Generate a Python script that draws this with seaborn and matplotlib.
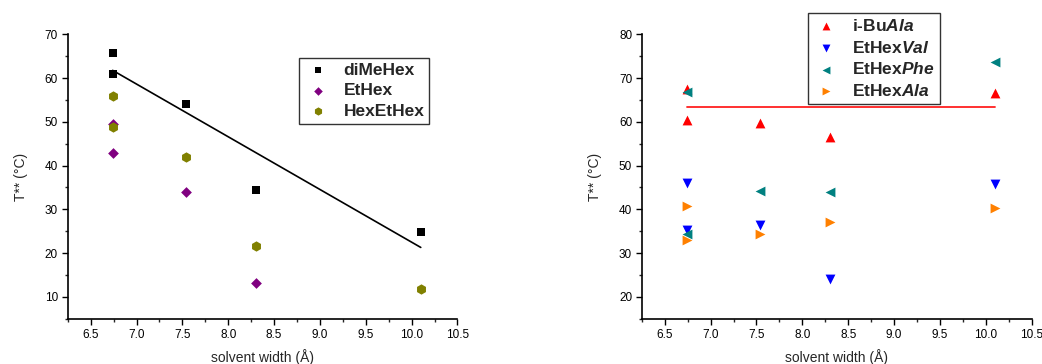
"""
Transition temperature vs solvent width, two panels
"""

import numpy as np
import pandas as pd
import matplotlib
matplotlib.use("Agg")
import matplotlib.pyplot as plt
from matplotlib.ticker import MultipleLocator
import seaborn as sns

# Left panel data
dimehex_x = [6.74, 6.74, 7.54, 8.30, 10.10]
dimehex_y = [65.6, 61.0, 54.0, 34.5, 24.8]
ethex_x = [6.74, 6.74, 7.54, 8.30]
ethex_y = [49.4, 42.9, 34.0, 13.3]
hexethex_x = [6.74, 6.74, 7.54, 8.30, 10.10]
hexethex_y = [55.8, 48.9, 41.9, 21.7, 11.8]

# Right panel data
width_x = [6.74, 6.74, 7.54, 8.30, 10.10]
ibuala_y = [67.4, 60.4, 59.8, 56.5, 66.5]
ethexval_y = [46.0, 35.3, 36.4, 24.0, 45.7]
ethexphe_y = [66.8, 34.4, 44.3, 43.9, 73.6]
ethexala_y = [33.0, 40.8, 34.3, 37.2, 40.4]
ibuala_level = 63.3  # horizontal reference line

left_names = ["diMeHex", "EtHex", "HexEtHex"]
right_names = ["i-Bu$\\mathbfit{Ala}$", "EtHex$\\mathbfit{Val}$",
               "EtHex$\\mathbfit{Phe}$", "EtHex$\\mathbfit{Ala}$"]

sns.set_style("ticks")
plt.rcParams["font.family"] = ["Liberation Sans", "DejaVu Sans"]
plt.rcParams["mathtext.fontset"] = "custom"
plt.rcParams["mathtext.bfit"] = "Liberation Sans:bold:italic"
plt.rcParams["mathtext.rm"] = "Liberation Sans:bold"


def style_axes(ax, ylim):
    ax.set_xlim(6.25, 10.5)
    ax.set_ylim(*ylim)
    ax.set_xticks(np.arange(6.5, 10.51, 0.5))
    ax.xaxis.set_minor_locator(MultipleLocator(0.25))
    ax.yaxis.set_major_locator(MultipleLocator(10))
    ax.yaxis.set_minor_locator(MultipleLocator(5))
    ax.tick_params(which="major", direction="out", length=4, width=1,
                   labelsize=8.5, colors="black", pad=3)
    ax.tick_params(which="minor", direction="out", length=2.5, width=1)
    for side in ["left", "bottom"]:
        ax.spines[side].set_linewidth(1.2)
        ax.spines[side].set_color("black")
    sns.despine(ax=ax)
    ax.set_xlabel("solvent width (Å)", fontsize=10, labelpad=6)
    ax.set_ylabel("T** (°C)", fontsize=10, labelpad=12)


def add_legend(ax, anchor):
    leg = ax.legend(loc="upper left", bbox_to_anchor=anchor,
                    borderaxespad=0, fancybox=False, edgecolor="black",
                    prop={"weight": "bold", "size": 12.5}, markerscale=0.8,
                    labelspacing=0.32, handletextpad=0.7, borderpad=0.28,
                    handlelength=1.6)
    leg.get_frame().set_linewidth(1.0)
    return leg


fig = plt.figure(figsize=(10.42, 3.64), dpi=100)
ax1 = fig.add_axes([0.065, 0.124, 0.374, 0.782])
ax2 = fig.add_axes([0.616, 0.124, 0.374, 0.782])

# Left panel
left_series = [
    (dimehex_x, dimehex_y, "black", "s", 30),
    (ethex_x, ethex_y, "#800080", "D", 30),
    (hexethex_x, hexethex_y, "#808000", "h", 55),
]
for name, (xs, ys, color, marker, size) in zip(left_names, left_series):
    sns.scatterplot(x=xs, y=ys, color=color, marker=marker, s=size,
                    linewidth=0, label=name, ax=ax1, zorder=3)

# linear fit for diMeHex
coef = np.polyfit(dimehex_x, dimehex_y, 1)
fit_x = np.array([min(dimehex_x), max(dimehex_x)])
ax1.plot(fit_x, np.polyval(coef, fit_x), color="black", lw=1.2, zorder=2)
style_axes(ax1, (5, 70))
add_legend(ax1, (0.593, 0.918))

# Right panel
right_series = [
    (ibuala_y, "#ff0000", "^"),
    (ethexval_y, "#0000ff", "v"),
    (ethexphe_y, "#008080", "<"),
    (ethexala_y, "#ff8000", ">"),
]
for name, (ys, color, marker) in zip(right_names, right_series):
    sns.scatterplot(x=width_x, y=ys, color=color, marker=marker, s=50,
                    linewidth=0, label=name, ax=ax2, zorder=3)

ax2.plot([min(width_x), max(width_x)], [ibuala_level, ibuala_level],
         color="#ff2020", lw=1.3, zorder=2)
style_axes(ax2, (15, 80))
add_legend(ax2, (0.4255, 1.074))

fig.savefig("out.png", dpi=100)
plt.close(fig)
